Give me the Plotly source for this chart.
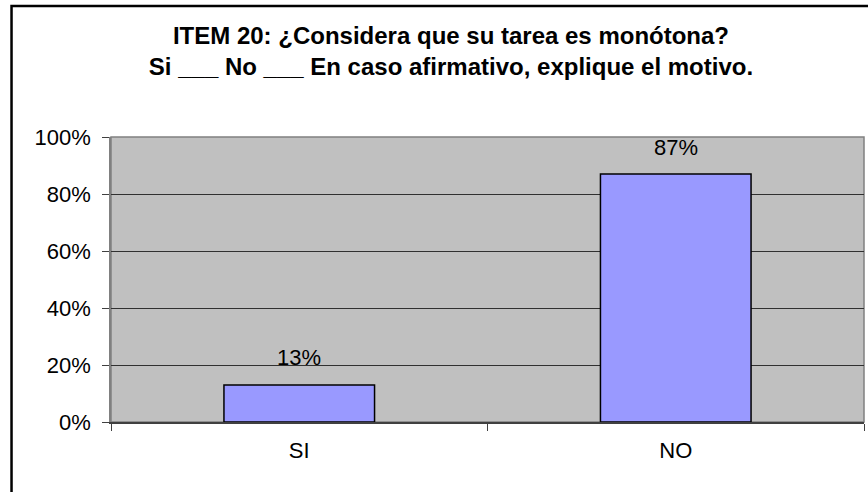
import plotly.graph_objects as go

# datos del item 20
categorias = ["SI", "NO"]
porcentajes = [0.13, 0.87]
etiquetas = ["13%", "87%"]
ticks_y = [0, 0.2, 0.4, 0.6, 0.8, 1.0]
ticks_y_texto = ["0%", "20%", "40%", "60%", "80%", "100%"]

fig = go.Figure()
fig.add_trace(go.Bar(
    x=categorias,
    y=porcentajes,
    width=0.4,
    marker=dict(color="#9999FF", line=dict(color="black", width=1.5)),
    hoverinfo="skip",
))

# etiquetas de datos sobre las barras
for c, v, t in zip(categorias, porcentajes, etiquetas):
    fig.add_annotation(x=c, y=v, text=t, showarrow=False, yshift=27,
                       font=dict(size=22, color="black"))

# marco exterior del grafico
fig.add_shape(type="rect", xref="paper", yref="paper",
              x0=-0.1321, x1=1.2, y0=-0.5, y1=1.4596,
              line=dict(color="black", width=2.5), layer="above")

fig.update_layout(
    title=dict(
        text="<b>ITEM 20: ¿Considera que su tarea es monótona?<br>Si ___ No ___ En caso afirmativo, explique el motivo.</b>",
        x=0.4515, xref="paper", xanchor="center",
        y=1 - 44 / 492, yref="container", yanchor="middle",
        font=dict(size=24, color="black"),
    ),
    width=868,
    height=492,
    margin=dict(l=111, r=4, t=137, b=70),
    paper_bgcolor="white",
    plot_bgcolor="#C0C0C0",
    font=dict(family="Arial, Liberation Sans, sans-serif", size=22, color="black"),
    showlegend=False,
)
fig.update_xaxes(
    type="category",
    tickson="boundaries",
    ticks="outside",
    ticklen=7,
    tickcolor="#404040",
    showgrid=False,
    showline=True,
    linecolor="#404040",
    linewidth=1.5,
    ticklabelstandoff=8,
)
fig.update_yaxes(
    range=[0, 1],
    tickvals=ticks_y,
    ticktext=ticks_y_texto,
    ticks="outside",
    ticklen=7,
    tickcolor="#404040",
    showgrid=True,
    gridcolor="#303030",
    gridwidth=1,
    showline=True,
    linecolor="#808080",
    linewidth=1.5,
    zeroline=False,
    ticklabelstandoff=7,
)
# borde gris superior y derecho del area de trazado
fig.add_shape(type="rect", xref="paper", yref="paper", x0=0, x1=1, y0=0, y1=1,
              line=dict(color="#808080", width=1.5), layer="below")

# quitar el margen por defecto del body para que la figura empiece en 0,0
fig.write_html("out.html", config={"displayModeBar": False},
               post_script="document.body.style.margin='0';")
